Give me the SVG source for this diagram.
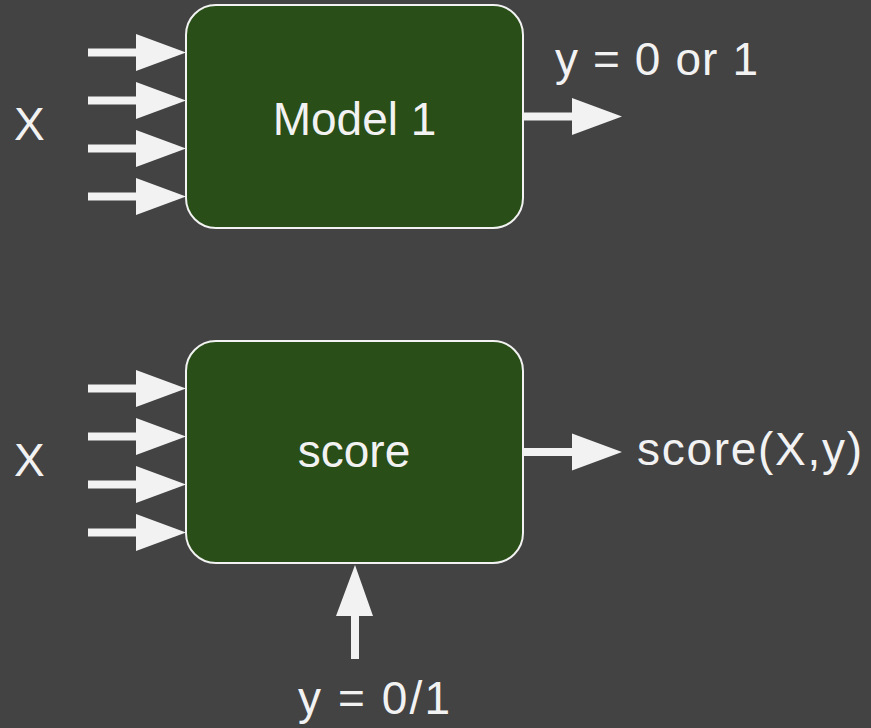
<svg xmlns="http://www.w3.org/2000/svg" width="871" height="728" viewBox="0 0 871 728">
<style>
.bg{fill:#434343}
.box{fill:#294e17;stroke:#f2f2f2;stroke-width:2}
.arr{fill:#f2f2f2}
text{font-family:"Liberation Sans",Arial,sans-serif;font-size:46px;fill:#f2f2f2}
</style>
<defs>
<path id="rarrow" d="M0,-4 L48,-4 L48,-18.5 L98,0 L48,18.5 L48,4 L0,4 Z"/>
</defs>
<rect class="bg" x="0" y="0" width="871" height="728"/>
<g id="connectors">
<use class="arr" href="#rarrow" x="88" y="52.5"/>
<use class="arr" href="#rarrow" x="88" y="100.5"/>
<use class="arr" href="#rarrow" x="88" y="148.5"/>
<use class="arr" href="#rarrow" x="88" y="196.5"/>
<use class="arr" href="#rarrow" x="524" y="116.5"/>
<use class="arr" href="#rarrow" x="88" y="388.5"/>
<use class="arr" href="#rarrow" x="88" y="436.5"/>
<use class="arr" href="#rarrow" x="88" y="484.5"/>
<use class="arr" href="#rarrow" x="88" y="532.5"/>
<use class="arr" href="#rarrow" x="524" y="452"/>
<path class="arr" d="M351,659 L359,659 L359,616 L373,616 L355,565 L336,616 L351,616 Z"/>
</g>
<g id="model1">
<rect class="box" x="186" y="5" width="337" height="223" rx="30" ry="30"/>
<text x="354.5" y="135" text-anchor="middle">Model 1</text>
</g>
<g id="score">
<rect class="box" x="186" y="341" width="337" height="222" rx="30" ry="30"/>
<text x="354" y="467" text-anchor="middle">score</text>
</g>
<g id="labels">
<text x="14" y="140">X</text>
<text x="14" y="476">X</text>
<text x="555" y="75" textLength="203">y = 0 or 1</text>
<text x="637" y="465" textLength="225">score(X,y)</text>
<text x="298" y="714" textLength="152">y = 0/1</text>
</g>
</svg>
